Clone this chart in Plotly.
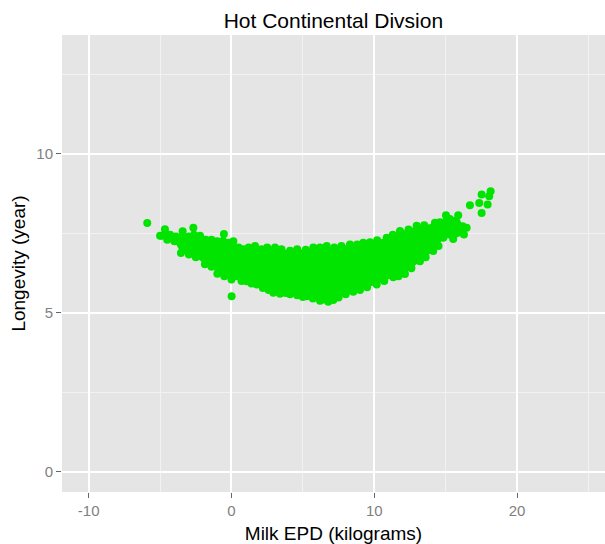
import plotly.graph_objects as go

# Outer edge of the dense cloud: upper boundary (x, longevity)
upper_x = [-5.0, -4.66, -4.3, -3.9, -3.42, -3.0, -2.67, -2.2, -1.8, -1.4, -1.0, -0.53,
           -0.2, 0.13, 0.5, 0.83, 1.2, 1.65, 2.1, 2.5, 3.05, 3.5, 4.1, 4.6, 5.2, 5.73,
           6.2, 6.67, 7.2, 7.7, 8.3, 8.8, 9.23, 9.7, 10.2, 10.87, 11.3, 11.8, 12.4,
           12.97, 13.5, 14.25, 14.6, 15.02, 15.3, 15.88, 16.19, 16.47]
upper_y = [7.42, 7.63, 7.45, 7.40, 7.56, 7.40, 7.67, 7.42, 7.30, 7.30, 7.25, 7.48,
           7.20, 7.25, 7.05, 7.00, 7.05, 7.10, 7.00, 7.05, 7.05, 7.00, 6.95, 7.00, 6.98, 7.05,
           7.05, 7.10, 7.05, 7.10, 7.15, 7.15, 7.20, 7.22, 7.28, 7.36, 7.45, 7.57, 7.62,
           7.74, 7.75, 7.83, 7.85, 8.07, 7.95, 8.07, 7.72, 7.67]

# Lower boundary of the cloud
lower_x = [-4.89, -4.5, -4.0, -3.54, -2.98, -2.5, -1.86, -1.4, -0.99, -0.5, 0.0, 0.36,
           0.7, 1.06, 1.4, 1.76, 2.2, 2.6, 2.93, 3.4, 3.8, 4.1, 4.6, 5.0, 5.27, 5.7,
           6.2, 6.5, 6.78, 7.13, 7.5, 8.0, 8.53, 9.0, 9.5, 10.17, 10.7, 11.33, 11.7,
           12.15, 12.6, 13.2, 13.6, 14.13, 14.5, 14.83, 15.53, 16.28]
lower_y = [7.42, 7.30, 7.25, 6.88, 6.83, 6.75, 6.53, 6.45, 6.23, 6.15, 6.05, 6.15,
           6.00, 5.99, 5.92, 5.89, 5.78, 5.72, 5.63, 5.60, 5.62, 5.58, 5.55, 5.50, 5.52, 5.45,
           5.38, 5.42, 5.35, 5.40, 5.48, 5.58, 5.66, 5.72, 5.80, 5.89, 6.00, 6.12, 6.15,
           6.22, 6.40, 6.62, 6.75, 6.94, 7.10, 7.36, 7.32, 7.46]

# Isolated animals outside the main cloud
out_x = [-5.9, 0.01, 16.7, 17.52, 18.15, 18.05, 17.35, 17.94, 17.52]
out_y = [7.82, 5.52, 8.38, 8.72, 8.82, 8.66, 8.45, 8.40, 8.14]

# Axis ticks
x_ticks = [-10, 0, 10, 20]
x_tick_labels = ["-10", "0", "10", "20"]
y_ticks = [0, 5, 10]
y_tick_labels = ["0", "5", "10"]

GREEN = "#00e400"
FONT = "Liberation Sans, Arial"

fig = go.Figure()

# Solid interior of the cloud
poly_x = upper_x + lower_x[::-1]
poly_y = upper_y + lower_y[::-1]
fig.add_trace(go.Scatter(x=poly_x, y=poly_y, mode="lines", fill="toself",
                         fillcolor=GREEN, line=dict(width=0, color=GREEN),
                         hoverinfo="skip", showlegend=False))

# Individual points along the edges and outside the cloud
pts_x = upper_x + lower_x + out_x
pts_y = upper_y + lower_y + out_y
fig.add_trace(go.Scatter(x=pts_x, y=pts_y, mode="markers",
                         marker=dict(size=8, color=GREEN, line=dict(width=0)),
                         showlegend=False))

axis_common = dict(
    showline=False, zeroline=False,
    showgrid=True, gridcolor="white", gridwidth=2,
    ticks="outside", ticklen=5, tickwidth=1, tickcolor="#666666",
    tickfont=dict(family=FONT, size=15, color="#7f7f7f"),
)

fig.update_xaxes(
    range=[-11.87, 26.16], tickmode="array", tickvals=x_ticks, ticktext=x_tick_labels,
    minor=dict(tickmode="array", tickvals=[-5, 5, 15, 25], showgrid=True,
               gridcolor="#f2f2f2", gridwidth=1, ticklen=0),
    title=dict(text="Milk EPD (kilograms)", standoff=13,
               font=dict(family=FONT, size=19, color="black")),
    **axis_common,
)
fig.update_yaxes(
    range=[-0.63, 13.73], tickmode="array", tickvals=y_ticks, ticktext=y_tick_labels,
    minor=dict(tickmode="array", tickvals=[2.5, 7.5, 12.5], showgrid=True,
               gridcolor="#f2f2f2", gridwidth=1, ticklen=0),
    title=dict(text="Longevity (year)", standoff=5,
               font=dict(family=FONT, size=19, color="black")),
    **axis_common,
)

fig.update_layout(
    width=605, height=544,
    margin=dict(l=62, r=0, t=35, b=52, autoexpand=False),
    paper_bgcolor="white", plot_bgcolor="#e5e5e5",
    title=dict(text="Hot Continental Divsion", x=0.551, xanchor="center",
               yref="container", y=1 - 20.5 / 544, yanchor="middle",
               font=dict(family=FONT, size=21, color="black")),
)

fig.write_html("out.html")
